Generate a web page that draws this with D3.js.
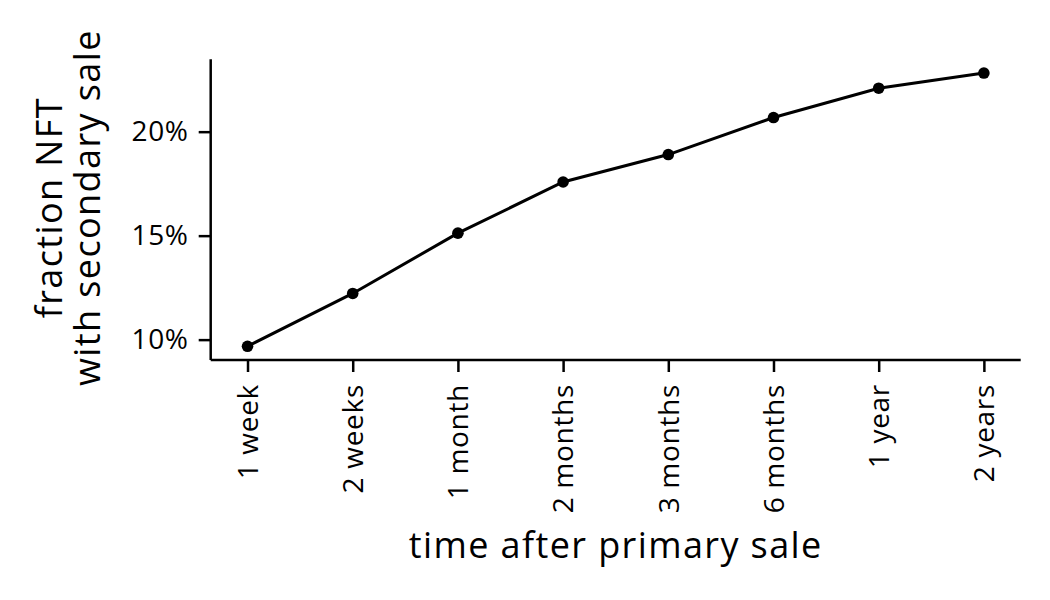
<!DOCTYPE html>
<html>
<head>
<meta charset="utf-8">
<script src="https://cdn.jsdelivr.net/npm/d3@7"></script>
<style>
  body { margin: 0; background: #fff; }
  text { font-family: "Open Sans", sans-serif; fill: #000; }
</style>
</head>
<body>
<svg width="1050" height="600"></svg>
<script>
const periods = ['1 week', '2 weeks', '1 month', '2 months', '3 months', '6 months', '1 year', '2 years'];
const fractions = [9.68, 12.22, 15.12, 17.58, 18.90, 20.68, 22.09, 22.82];
const yTicks = [10, 15, 20];

const plotLeft = 210.7, plotRight = 1020.7, plotTop = 59.3, plotBottom = 360;

let svg = d3.select("svg");

let x = d3.scalePoint()
    .domain(periods)
    .range([plotLeft, plotRight])
    .padding(0.35);

let y = d3.scaleLinear()
    .domain([9.02, 23.48])
    .range([plotBottom, plotTop]);

let xAxis = d3.axisBottom(x)
    .tickSize(12)
    .tickPadding(12);

let yAxis = d3.axisLeft(y)
    .tickValues(yTicks)
    .tickSize(12)
    .tickPadding(10)
    .tickFormat(d => d + '%');

let gX = svg.append("g")
    .attr("transform", `translate(0,${plotBottom})`)
    .call(xAxis);

gX.selectAll(".tick text")
    .attr("transform", "rotate(-90)")
    .attr("x", -24)
    .attr("y", 0)
    .attr("dy", "0.35em")
    .attr("text-anchor", "end");

let gY = svg.append("g")
    .attr("transform", `translate(${plotLeft},0)`)
    .call(yAxis);

[gX, gY].forEach(g => {
  g.select(".domain").attr("stroke-width", 2.5);
  g.selectAll(".tick line").attr("stroke-width", 2.5);
  g.selectAll(".tick text")
    .attr("font-size", 28)
    .attr("letter-spacing", 0.7)
    .attr("font-family", '"Open Sans", sans-serif');
});

// spines without the end ticks d3 puts on the domain path
gX.select(".domain").attr("d", `M${plotLeft},0H${plotRight}`);
gY.select(".domain").attr("d", `M0,${plotTop}V${plotBottom}`);

let line = d3.line()
    .x((d, i) => x(periods[i]))
    .y(d => y(d));

svg.append("path")
    .datum(fractions)
    .attr("fill", "none")
    .attr("stroke", "#000")
    .attr("stroke-width", 3)
    .attr("d", line);

svg.selectAll("circle.pt")
    .data(fractions)
    .enter().append("circle")
    .attr("class", "pt")
    .attr("cx", (d, i) => x(periods[i]))
    .attr("cy", d => y(d))
    .attr("r", 5.8)
    .attr("fill", "#000");

// axis labels
svg.append("text")
    .attr("x", (plotLeft + plotRight) / 2)
    .attr("y", 558)
    .attr("text-anchor", "middle")
    .attr("font-size", 36)
    .attr("letter-spacing", 1.4)
    .text("time after primary sale");

let yLab = svg.append("text")
    .attr("transform", `translate(62,${(plotTop + plotBottom) / 2 - 2}) rotate(-90)`)
    .attr("text-anchor", "middle")
    .attr("font-size", 36)
    .attr("letter-spacing", 1.4);
yLab.append("tspan").attr("x", 0).attr("y", 0).text("fraction NFT");
yLab.append("tspan").attr("x", 0).attr("y", 38).text("with secondary sale");
</script>
</body>
</html>
